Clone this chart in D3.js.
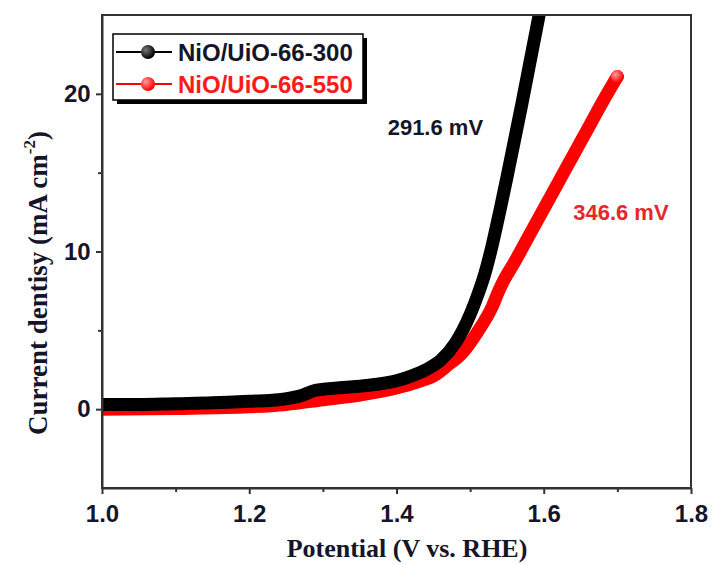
<!DOCTYPE html>
<html><head><meta charset="utf-8">
<script src="https://cdn.jsdelivr.net/npm/d3@7"></script>
<style>body{margin:0;background:#fff}svg{display:block}</style>
</head><body>
<svg id="c" width="712" height="565"></svg>
<script>
// ---- data ----
const seriesNames = ["NiO/UiO-66-300", "NiO/UiO-66-550"];
const potential300 = [1.00,1.05,1.10,1.15,1.20,1.24,1.27,1.29,1.32,1.36,1.40,1.42,1.44,1.46,1.48,1.49,1.50,1.51,1.52,1.53,1.54,1.55,1.56,1.57,1.58,1.59,1.60];
const current300   = [0.30,0.30,0.35,0.40,0.50,0.60,0.85,1.20,1.35,1.50,1.80,2.10,2.50,3.10,4.20,5.00,6.00,7.20,8.60,10.4,12.5,14.7,17.0,19.3,21.7,24.1,26.5];
const potential550 = [1.00,1.10,1.20,1.25,1.30,1.35,1.40,1.43,1.45,1.47,1.49,1.51,1.53,1.538,1.545,1.56,1.58,1.60,1.62,1.64,1.66,1.68,1.70];
const current550   = [0.00,0.05,0.15,0.30,0.60,0.90,1.35,1.75,2.10,2.80,3.60,4.90,6.50,7.40,8.10,9.30,11.0,12.7,14.4,16.1,17.8,19.5,21.1];
const xTicks = [1.0,1.2,1.4,1.6,1.8];
const xMinor = [1.1,1.3,1.5,1.7];
const yTicks = [0,10,20];
const yMinor = [5,15];
const annotations = [
  {text:"291.6 mV", x:1.388, y:17.4, color:"#15152a"},
  {text:"346.6 mV", x:1.640, y:12.0, color:"#e8262a"}
];

const svg = d3.select("#c");
const x = d3.scaleLinear().domain([1.0,1.8]).range([102,691]);
const y = d3.scaleLinear().domain([-5,25]).range([488,15]);

const defs = svg.append("defs");
defs.append("clipPath").attr("id","clip").append("rect")
  .attr("x",102).attr("y",15).attr("width",589).attr("height",473);
function ball(id, base, hi){
  const g = defs.append("radialGradient").attr("id",id).attr("cx","35%").attr("cy","35%").attr("r","65%");
  g.append("stop").attr("offset","0%").attr("stop-color",hi);
  g.append("stop").attr("offset","100%").attr("stop-color",base);
}
ball("gb","#000","#777");
ball("gr","#ff0000","#ff9a9a");

const line = d3.line().x(d=>x(d[0])).y(d=>y(d[1])).curve(d3.curveMonotoneX);
const d300 = potential300.map((v,i)=>[v,current300[i]]);
const d550 = potential550.map((v,i)=>[v,current550[i]]);

const plot = svg.append("g").attr("clip-path","url(#clip)");
plot.append("path").datum(d550).attr("d",line).attr("fill","none")
  .attr("stroke","#ff0000").attr("stroke-width",13).attr("stroke-linejoin","round").attr("stroke-linecap","round");
plot.append("circle").attr("cx",x(1.70)).attr("cy",y(21.1)).attr("r",6.5).attr("fill","url(#gr)");
plot.append("path").datum(d300).attr("d",line).attr("fill","none")
  .attr("stroke","#000").attr("stroke-width",13).attr("stroke-linejoin","round").attr("stroke-linecap","round");

// frame
svg.append("rect").attr("x",102).attr("y",15).attr("width",589).attr("height",473)
  .attr("fill","none").attr("stroke","#333").attr("stroke-width",2);

// axes
const xAxis = svg.append("g").attr("transform","translate(0,488)")
  .call(d3.axisBottom(x).tickValues(xTicks).tickFormat(d3.format(".1f")).tickSize(6).tickSizeOuter(0));
svg.append("g").attr("transform","translate(0,488)")
  .call(d3.axisBottom(x).tickValues(xMinor).tickFormat("").tickSize(4).tickSizeOuter(0))
  .select(".domain").remove();
const yAxis = svg.append("g").attr("transform","translate(102,0)")
  .call(d3.axisLeft(y).tickValues(yTicks).tickSize(6).tickSizeOuter(0));
svg.append("g").attr("transform","translate(102,0)")
  .call(d3.axisLeft(y).tickValues(yMinor).tickFormat("").tickSize(4).tickSizeOuter(0))
  .select(".domain").remove();
svg.selectAll(".domain").attr("stroke","#333").attr("stroke-width",2);
svg.selectAll(".tick line").attr("stroke","#333").attr("stroke-width",2);
svg.selectAll(".tick text").attr("font-family","Liberation Sans, Arial, sans-serif")
  .attr("font-weight","bold").attr("font-size",24).attr("fill","#15152a");
xAxis.selectAll(".tick text").attr("dy","1.05em");
yAxis.selectAll(".tick text").attr("dx","-0.1em");

// axis titles
svg.append("text").attr("x",407).attr("y",557).attr("text-anchor","middle")
  .attr("font-family","Liberation Serif, Times New Roman, serif").attr("font-weight","bold")
  .attr("font-size",26).attr("fill","#15152a").text("Potential (V vs. RHE)");
const yt = svg.append("text").attr("transform","translate(47,283) rotate(-90)").attr("text-anchor","middle")
  .attr("font-family","Liberation Serif, Times New Roman, serif").attr("font-weight","bold")
  .attr("font-size",27).attr("fill","#15152a");
yt.append("tspan").text("Current dentisy (mA cm");
yt.append("tspan").attr("font-size",17).attr("dy","-0.7em").text("-2");
yt.append("tspan").attr("dy","0.45em").text(")");

// annotations
annotations.forEach(a=>{
  svg.append("text").attr("x",x(a.x)).attr("y",y(a.y)).attr("font-family","Liberation Sans, Arial, sans-serif")
    .attr("font-weight","bold").attr("font-size",22).attr("fill",a.color).text(a.text);
});

// legend
const lg = svg.append("g");
lg.append("rect").attr("x",117).attr("y",38).attr("width",250).attr("height",66).attr("fill","#000");
lg.append("rect").attr("x",113).attr("y",34).attr("width",250).attr("height",66).attr("fill","#fff").attr("stroke","#000").attr("stroke-width",1.5);
const lcol = ["#000","#ff0000"], lgrad=["url(#gb)","url(#gr)"], tcol=["#15152a","#ff1a1a"];
seriesNames.forEach((n,i)=>{
  const cy = 52 + i*32;
  lg.append("line").attr("x1",116).attr("x2",172).attr("y1",cy).attr("y2",cy).attr("stroke",lcol[i]).attr("stroke-width",2);
  lg.append("circle").attr("cx",148).attr("cy",cy).attr("r",7).attr("fill",lgrad[i]);
  lg.append("text").attr("x",178).attr("y",cy+9).attr("font-family","Liberation Sans, Arial, sans-serif")
    .attr("font-weight","bold").attr("font-size",24).attr("fill",tcol[i]).text(n);
});
</script>
</body></html>
